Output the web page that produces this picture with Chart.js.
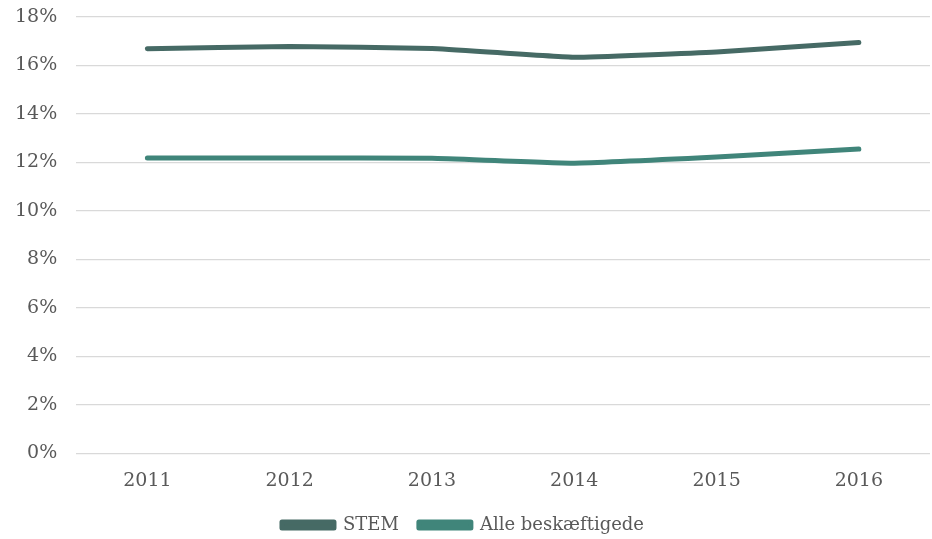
<!DOCTYPE html>
<html>
<head>
<meta charset="utf-8">
<script src="https://cdn.jsdelivr.net/npm/chart.js@4"></script>
<style>
  html, body { margin: 0; padding: 0; background: #fff; }
  #wrap { width: 932px; height: 539px; }
</style>
</head>
<body>
<div id="wrap"><canvas id="chart"></canvas></div>
<script>
const years = ["2011", "2012", "2013", "2014", "2015", "2016"];
const stem = [16.69, 16.78, 16.70, 16.34, 16.56, 16.95];
const alle = [12.18, 12.18, 12.17, 11.97, 12.22, 12.55];
const seriesNames = ["STEM", "Alle beskæftigede"];
const seriesColors = ["#466a65", "#40857a"];

const ctx = document.getElementById("chart").getContext("2d");
const fontFamily = "'DejaVu Serif'";

// legend padding also sets the gap between items, so pull the legend back up a bit after layout
const legendShift = {
  id: "legendShift",
  afterLayout: (chart) => {
    chart.legend.top -= 12;
    chart.legend.bottom -= 12;
  },
};

new Chart(ctx, {
  type: "line",
  data: {
    labels: years,
    datasets: [stem, alle].map((values, i) => ({
      label: seriesNames[i],
      data: values,
      borderColor: seriesColors[i],
      backgroundColor: seriesColors[i],
      borderWidth: 5,
      borderCapStyle: "round",
      borderJoinStyle: "round",
      pointRadius: 0,
      tension: 0.1,
    })),
  },
  options: {
    responsive: true,
    maintainAspectRatio: false,
    animation: false,
    layout: { padding: { top: 17, right: 2, left: -4, bottom: -17 } },
    plugins: {
      legend: {
        position: "bottom",
        labels: {
          boxWidth: 52,
          boxHeight: 6,
          padding: 20,
          color: "#595959",
          font: { family: fontFamily, size: 18 },
        },
      },
      tooltip: { enabled: false },
    },
    scales: {
      x: {
        offset: true,
        grid: { display: false, drawTicks: false },
        border: { display: false },
        ticks: { color: "#595959", padding: 16, font: { family: fontFamily, size: 19 } },
      },
      y: {
        min: 0,
        max: 18,
        grid: { color: "#d9d9d9", lineWidth: 1.3, drawTicks: false },
        border: { display: false },
        afterFit: (scale) => { scale.paddingTop = 0; },
        ticks: {
          stepSize: 2,
          color: "#595959",
          padding: 19,
          font: { family: fontFamily, size: 19 },
          callback: (v) => v + "%",
        },
      },
    },
  },
  plugins: [legendShift],
});
</script>
</body>
</html>
